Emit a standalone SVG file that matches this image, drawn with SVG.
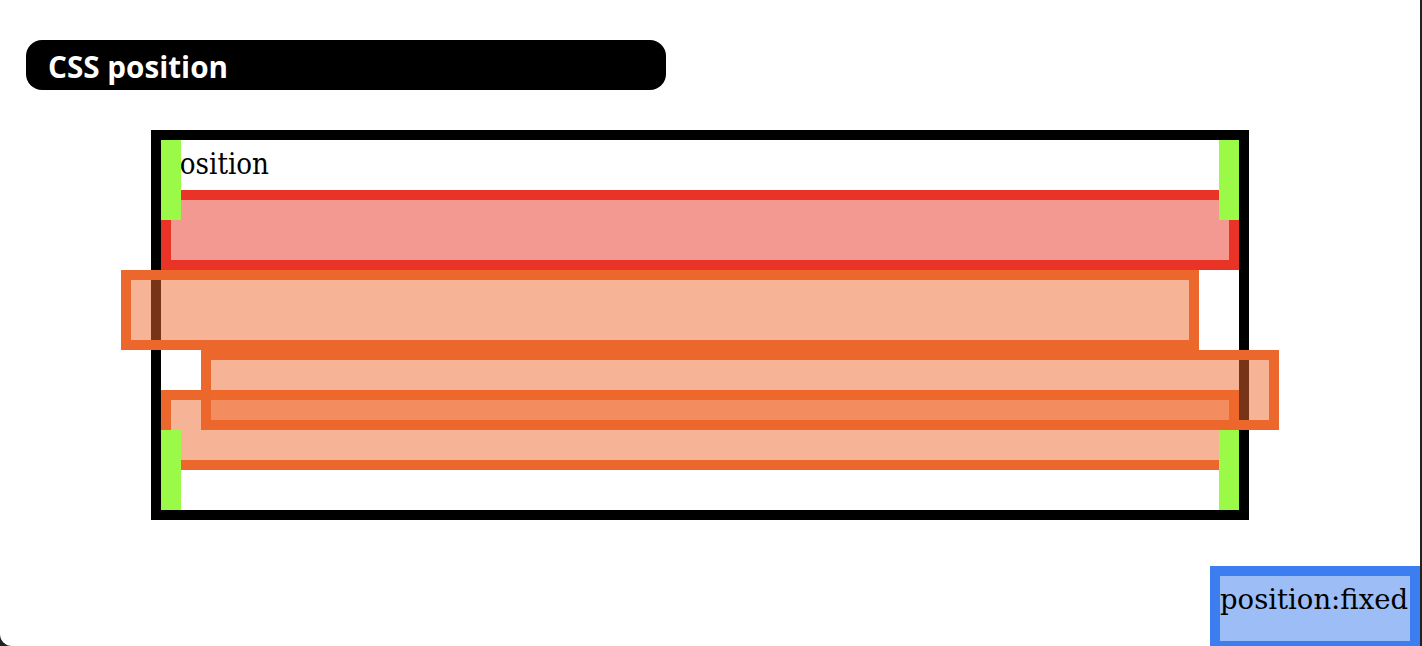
<svg xmlns="http://www.w3.org/2000/svg" width="1422" height="646" viewBox="0 0 1422 646">
<style>
.box{stroke-width:10}
.red{fill:rgba(232,51,38,0.5);stroke:#e83326}
.org{fill:rgba(240,104,44,0.5);stroke:#ec672b}
.grn{fill:#9bfa48}
.serif{font-family:"DejaVu Serif","Liberation Serif",serif;fill:#000}
</style>
<rect x="0" y="0" width="1422" height="646" fill="#222"/>
<path d="M0 0H1420V634A12 12 0 0 1 1408 646H12A12 12 0 0 1 0 634Z" fill="#fff"/>
<g id="title">
<rect x="26" y="40" width="640" height="50" rx="16" fill="#000"/>
<text x="48" y="78" font-family="'Open Sans','DejaVu Sans',sans-serif" font-weight="700" font-size="30" fill="#fff" textLength="180" lengthAdjust="spacingAndGlyphs">CSS position</text>
</g>
<g id="container">
<rect x="156" y="135" width="1088" height="380" fill="#fff" stroke="#000" stroke-width="10"/>
<text class="serif" x="163" y="174" font-size="29" textLength="106" lengthAdjust="spacingAndGlyphs">position</text>
</g>
<g id="box-static-top">
<rect class="box red" x="166" y="195" width="1068" height="70"/>
</g>
<g id="box-shift-left">
<rect class="box org" x="126" y="275" width="1068" height="70"/>
</g>
<g id="box-static-bottom">
<rect class="box org" x="166" y="395" width="1068" height="70"/>
</g>
<g id="box-shift-right">
<rect class="box org" x="206" y="355" width="1068" height="70"/>
</g>
<g id="markers">
<rect class="grn" x="161" y="140" width="20" height="80"/>
<rect class="grn" x="1219" y="140" width="20" height="80"/>
<rect class="grn" x="161" y="430" width="20" height="80"/>
<rect class="grn" x="1219" y="430" width="20" height="80"/>
</g>
<g id="connectors"></g>
<g id="fixed">
<rect x="1215" y="571" width="200" height="75" fill="#9dbdf7" stroke="#3c7ef0" stroke-width="10"/>
<text class="serif" x="1220" y="609" font-size="28" textLength="188" lengthAdjust="spacingAndGlyphs">position:fixed</text>
</g>
</svg>
